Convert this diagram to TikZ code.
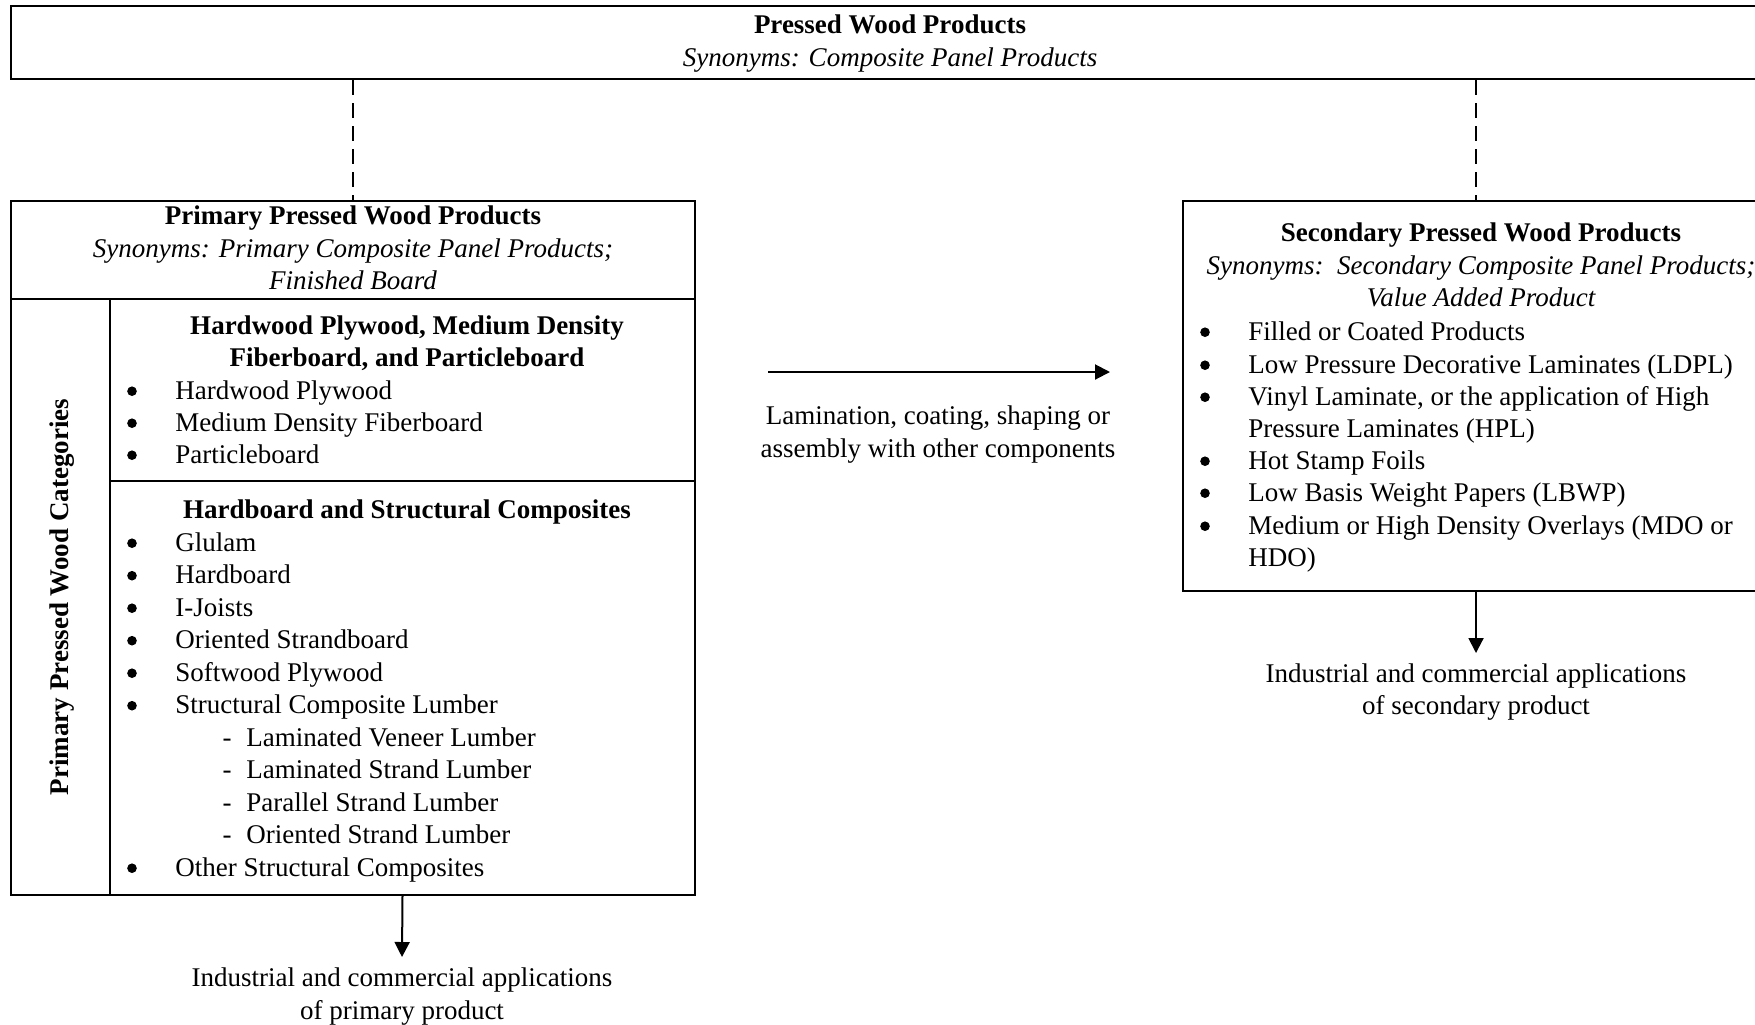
\documentclass[tikz,border=0pt]{standalone}
\usepackage{fontspec}
\setmainfont{Liberation Serif}
\usetikzlibrary{fit,arrows.meta}
\begin{document}
\begin{tikzpicture}[x=0.5pt,y=-0.5pt,
  box/.style={draw, line width=1pt, inner sep=0pt},
  txt/.style={inner sep=0pt, yshift=-2.2pt, font=\fontsize{13.5}{16.3}\selectfont},
  lbl/.style={txt, anchor=mid},
  itm/.style={txt, anchor=mid west},
  bul/.style={circle, fill=black, inner sep=0pt, minimum size=4.8pt, yshift=-0.6pt},
  dashln/.style={line width=0.7pt, dash pattern=on 7.5pt off 4pt},
  arr/.style={line width=1pt, -{Triangle[length=7.5pt,width=7.5pt]}}
]
\useasboundingbox (0,0) rectangle (1755,1024);
\clip (0,0) rectangle (1755,1024);

% top box
\node[box, fit={(11,6) (1769,79)}] (top) {};
\node[lbl, font=\fontsize{13.5}{16.3}\selectfont\bfseries] (toptitle) at (890,25) {Pressed Wood Products};
\node[lbl, font=\fontsize{13.5}{16.3}\selectfont\itshape] (topsyn) at (890,58) {Synonyms: Composite Panel Products};

% primary box cells
\node[box, fit={(11,201) (695,299)}] (hdr) {};
\node[box, fit={(11,299) (110,895)}] (side) {};
\node[box, fit={(110,299) (695,481)}] (cat1) {};
\node[box, fit={(110,481) (695,895)}] (cat2) {};

\node[lbl, font=\fontsize{13.5}{16.3}\selectfont\bfseries] (ptitle) at (353,216) {Primary Pressed Wood Products};
\node[lbl, font=\fontsize{13.5}{16.3}\selectfont\itshape] (psyn1) at (353,248) {Synonyms: Primary Composite Panel Products;};
\node[lbl, font=\fontsize{13.5}{16.3}\selectfont\itshape] (psyn2) at (353,281) {Finished Board};

\node[inner sep=0pt, anchor=mid, rotate=90, font=\fontsize{13.5}{16.3}\selectfont\bfseries] (sidetxt) at (64,597) {Primary Pressed Wood Categories};

\node[lbl, font=\fontsize{13.5}{16.3}\selectfont\bfseries] (c1h1) at (407,325) {Hardwood Plywood, Medium Density};
\node[lbl, font=\fontsize{13.5}{16.3}\selectfont\bfseries] (c1h2) at (407,357) {Fiberboard, and Particleboard};
\foreach \t [count=\i] in {Hardwood Plywood, Medium Density Fiberboard, Particleboard}{
  \node[bul] (c1b\i) at (132,{390+32*(\i-1)}) {};
  \node[itm] (c1t\i) at (175,{390+32*(\i-1)}) {\t};
}

\node[lbl, font=\fontsize{13.5}{16.3}\selectfont\bfseries] (c2h) at (407,509) {Hardboard and Structural Composites};
\foreach \t [count=\i] in {Glulam, Hardboard, I-Joists, Oriented Strandboard, Softwood Plywood, Structural Composite Lumber}{
  \node[bul] (c2b\i) at (132,{542+32.5*(\i-1)}) {};
  \node[itm] (c2t\i) at (175,{542+32.5*(\i-1)}) {\t};
}
\foreach \t [count=\i] in {Laminated Veneer Lumber, Laminated Strand Lumber, Parallel Strand Lumber, Oriented Strand Lumber}{
  \node[txt, anchor=mid] (c2d\i) at (227,{737+32.5*(\i-1)}) {-};
  \node[itm] (c2s\i) at (246,{737+32.5*(\i-1)}) {\t};
}
\node[bul] (c2b7) at (132,867) {};
\node[itm] (c2t7) at (175,867) {Other Structural Composites};

% secondary box
\node[box, fit={(1183,201) (1769,591)}] (sec) {};
\node[lbl, font=\fontsize{13.5}{16.3}\selectfont\bfseries] (stitle) at (1481,233) {Secondary Pressed Wood Products};
\node[lbl, font=\fontsize{13.5}{16.3}\selectfont\itshape] (ssyn1) at (1481,265) {Synonyms:\ \ Secondary Composite Panel Products;};
\node[lbl, font=\fontsize{13.5}{16.3}\selectfont\itshape] (ssyn2) at (1481,298) {Value Added Product};
\foreach \y/\t [count=\i] in {331/Filled or Coated Products, 364/Low Pressure Decorative Laminates (LDPL), 396/{Vinyl Laminate, or the application of High}, 460/Hot Stamp Foils, 492/Low Basis Weight Papers (LBWP), 525/Medium or High Density Overlays (MDO or}{
  \node[bul] (sb\i) at (1205,\y) {};
  \node[itm] (st\i) at (1248,\y) {\t};
}
\node[itm] (st3b) at (1248,428) {Pressure Laminates (HPL)};
\node[itm] (st6b) at (1248,557) {HDO)};

% dashed links
\draw[dashln] (top.south -| hdr.north) -- (hdr.north);
\draw[dashln] (top.south -| sec.north) -- (sec.north);

% process arrow
\coordinate (hs) at (768,372);
\coordinate (he) at (1110,372);
\draw[arr] (hs) -- (he);
\node[lbl] (proc1) at (938,415) {Lamination, coating, shaping or};
\node[lbl] (proc2) at (938,448) {assembly with other components};

% applications
\node[lbl] (app1a) at (402,977) {Industrial and commercial applications};
\node[lbl] (app1b) at (402,1010) {of primary product};
\coordinate (app1top) at (402,957);
\draw[arr] (cat2.south) -- (app1top);

\node[lbl] (app2a) at (1476,673) {Industrial and commercial applications};
\node[lbl] (app2b) at (1476,705) {of secondary product};
\coordinate (app2top) at (1476,653);
\draw[arr] (sec.south) -- (app2top);
\end{tikzpicture}
\end{document}
